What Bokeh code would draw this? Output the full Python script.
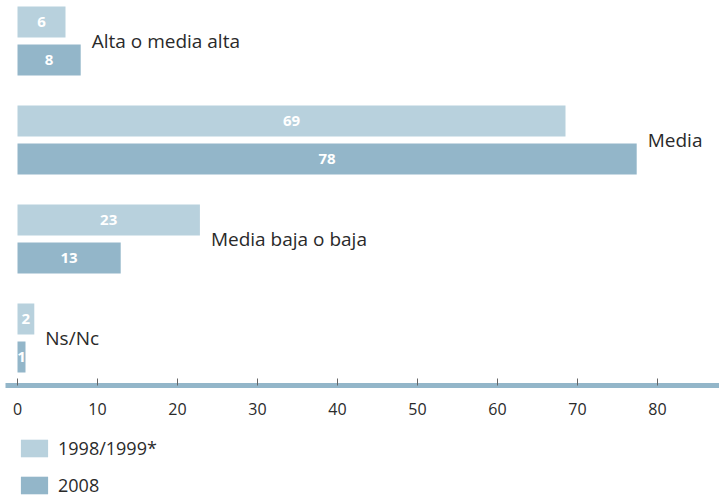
from bokeh.plotting import figure
from bokeh.layouts import column
from bokeh.models import ColumnDataSource, Range1d, FixedTicker, LinearAxis, Legend, LegendItem
from bokeh.core.properties import value
from bokeh.embed import file_html
from bokeh.resources import INLINE

# ---- data ----
categories = ["Alta o media alta", "Media", "Media baja o baja", "Ns/Nc"]
series_names = ["1998/1999*", "2008"]
values_1998 = [6.0, 68.5, 22.8, 2.1]      # bar lengths as drawn
values_2008 = [7.9, 77.4, 12.9, 1.0]
labels_1998 = ["6", "69", "23", "2"]       # values as printed on the bars
labels_2008 = ["8", "78", "13", "1"]
x_ticks = [0, 10, 20, 30, 40, 50, 60, 70, 80]

# ---- style ----
LIGHT = "#b8d1dd"
DARK = "#93b6c9"
TEXT = "#2a2a2a"
FONT = "Open Sans"

GROUP_STEP = 99
BAR_H = 31
FIRST = 21.5
PAIR_GAP = 38

idx = list(range(len(categories)))
y_light = [FIRST + GROUP_STEP * i for i in idx]
y_dark = [y + PAIR_GAP for y in y_light]
y_group = [(a + b) / 2 for a, b in zip(y_light, y_dark)]
label_x = [max(a, b) for a, b in zip(values_1998, values_2008)]

src_light = ColumnDataSource(dict(y=y_light, right=values_1998,
                                  mid=[v / 2 for v in values_1998], txt=labels_1998))
src_dark = ColumnDataSource(dict(y=y_dark, right=values_2008,
                                 mid=[v / 2 for v in values_2008], txt=labels_2008))
src_cat = ColumnDataSource(dict(x=label_x, y=y_group, txt=categories))

p = figure(frame_width=714, frame_height=385,
           x_range=Range1d(-1.5, 87.75), y_range=Range1d(385, 0),
           output_backend="svg", toolbar_location=None,
           x_axis_location=None, y_axis_location=None,
           min_border_left=5, min_border_right=0, min_border_top=0, min_border_bottom=39,
           outline_line_color=None)
p.grid.grid_line_color = None

r1 = p.hbar(y="y", left=0, right="right", height=BAR_H, source=src_light,
            fill_color=LIGHT, line_color=None)
r2 = p.hbar(y="y", left=0, right="right", height=BAR_H, source=src_dark,
            fill_color=DARK, line_color=None)

for src in (src_light, src_dark):
    p.text(x="mid", y="y", text="txt", source=src, text_color="white",
           text_font=value(FONT), text_font_style="bold", text_font_size="15px",
           text_align="center", text_baseline="middle")

p.text(x="x", y="y", text="txt", source=src_cat, x_offset=11, text_color=TEXT,
       text_font=value(FONT), text_font_size="19px",
       text_align="left", text_baseline="middle")

axis = LinearAxis(ticker=FixedTicker(ticks=x_ticks))
axis.axis_line_color = DARK
axis.axis_line_width = 5
axis.major_tick_in = 7
axis.major_tick_out = 0
axis.major_tick_line_color = "#666666"
axis.minor_tick_line_color = None
axis.major_label_standoff = 17
axis.major_label_text_font = FONT
axis.major_label_text_font_size = "16px"
axis.major_label_text_color = TEXT
p.add_layout(axis, "below")

# ---- legend strip below the axis (same series, drawn outside its view) ----
lg = figure(width=719, height=74, x_range=Range1d(-10, -9), y_range=Range1d(-1, 0),
            output_backend="svg", toolbar_location=None,
            x_axis_location=None, y_axis_location=None,
            min_border_left=4, min_border_right=0, min_border_top=0, min_border_bottom=0,
            outline_line_color=None)
lg.grid.grid_line_color = None
k1 = lg.hbar(y="y", left=0, right="right", height=BAR_H, source=src_light,
             fill_color=LIGHT, line_color=None)
k2 = lg.hbar(y="y", left=0, right="right", height=BAR_H, source=src_dark,
             fill_color=DARK, line_color=None)
legend = Legend(items=[LegendItem(label=series_names[0], renderers=[k1]),
                       LegendItem(label=series_names[1], renderers=[k2])],
                location="top_left", orientation="vertical",
                glyph_width=34, glyph_height=22, label_height=22,
                label_standoff=7, spacing=13, padding=0, margin=12,
                label_text_font=FONT, label_text_font_size="18px",
                label_text_color=TEXT,
                background_fill_alpha=0, border_line_color=None)
lg.add_layout(legend)

open("out.html", "w").write(file_html(column(p, lg, spacing=0), INLINE))
